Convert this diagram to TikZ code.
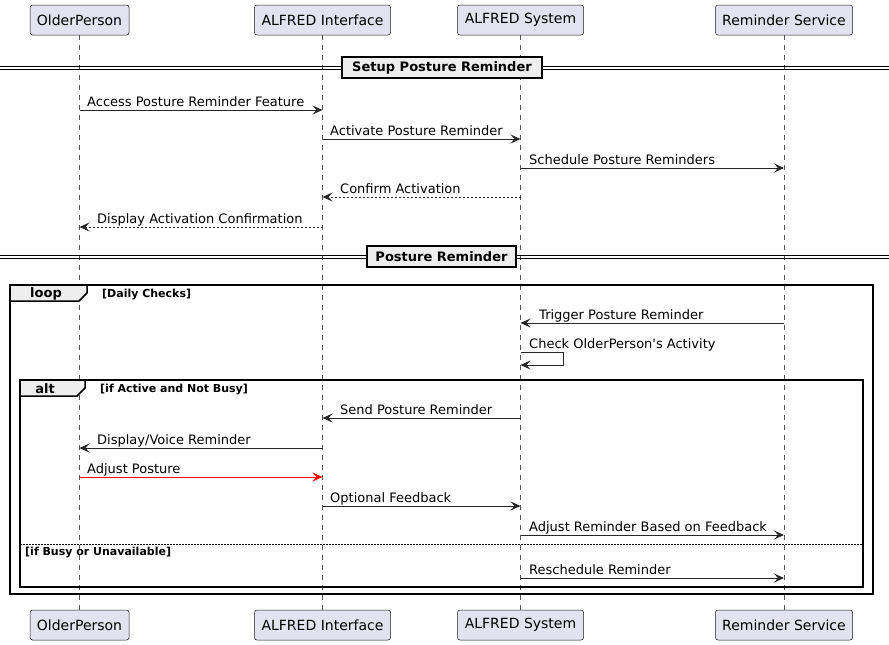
\documentclass[tikz,border=0pt]{standalone}
\usepackage{fontspec}
\setmainfont{DejaVu Sans}
\usetikzlibrary{arrows.meta}
\definecolor{partfill}{HTML}{E2E2F0}
\definecolor{partline}{HTML}{181818}
\definecolor{grpfill}{HTML}{EEEEEE}
\definecolor{lifegray}{HTML}{555555}
\newcommand{\straightquote}{\XeTeXglyph\XeTeXcharglyph"0027\relax}
\tikzset{
  part/.style={draw=partline, fill=partfill, rounded corners=2.5pt, line width=0.5pt,
    minimum height=30pt, inner sep=0pt, font=\fontsize{14}{16}\selectfont},
  life/.style={draw=lifegray, line width=0.5pt, dash pattern=on 5pt off 5pt},
  msg/.style={draw=black!85, line width=0.9pt, -{Stealth[length=10pt,width=9pt,inset=4pt]}},
  retmsg/.style={msg, dash pattern=on 2pt off 2pt},
  lbl/.style={anchor=base west, inner sep=0pt, font=\fontsize{13}{15}\selectfont},
  frame/.style={draw=black, line width=1.5pt},
  tab/.style={draw=black, line width=1.5pt, fill=grpfill},
  tabtxt/.style={inner sep=0pt, font=\bfseries\fontsize{13}{15}\selectfont},
  cond/.style={anchor=base west, inner sep=0pt, font=\bfseries\fontsize{11}{13}\selectfont},
  divbox/.style={draw=black, line width=1.5pt, fill=grpfill, minimum height=21pt,
    inner sep=0pt, font=\bfseries\fontsize{13}{15}\selectfont},
  divline/.style={draw=black, line width=1pt}
}
\begin{document}
\begin{tikzpicture}[x=1pt,y=-1pt]
\useasboundingbox (0,0) rectangle (889,645);

% participants top
\node[part, minimum width=99pt]  (op)  at (79.5,20) {OlderPerson};
\node[part, minimum width=136pt] (ai)  at (322.5,20) {ALFRED Interface};
\node[part, minimum width=126pt] (as)  at (520.5,20) {ALFRED System};
\node[part, minimum width=137pt] (rs)  at (784,20) {Reminder Service};
% participants bottom
\node[part, minimum width=99pt]  (opb) at (79.5,625) {OlderPerson};
\node[part, minimum width=136pt] (aib) at (322.5,625) {ALFRED Interface};
\node[part, minimum width=126pt] (asb) at (520.5,625) {ALFRED System};
\node[part, minimum width=137pt] (rsb) at (784,625) {Reminder Service};

% lifelines
\draw[life] (op.south) -- (opb.north);
\draw[life] (ai.south) -- (aib.north);
\draw[life] (as.south) -- (asb.north);
\draw[life] (rs.south) -- (rsb.north);

% divider 1
\draw[divline] (0,66) -- (889,66);
\draw[divline] (0,69) -- (889,69);
\node[divbox, minimum width=200pt] (d1) at (442,67.5) {Setup Posture Reminder};

% setup messages
\draw[msg] (op.south |- 0,110) -- (ai.south |- 0,110);
\node[lbl] (t1) at (87,106) {Access Posture Reminder Feature};
\draw[msg] (ai.south |- 0,139) -- (as.south |- 0,139);
\node[lbl] (t2) at (330,135) {Activate Posture Reminder};
\draw[msg] (as.south |- 0,168) -- (rs.south |- 0,168);
\node[lbl] (t3) at (529,164) {Schedule Posture Reminders};
\draw[retmsg] (as.south |- 0,197) -- (ai.south |- 0,197);
\node[lbl] (t4) at (340,193) {Confirm Activation};
\draw[retmsg] (ai.south |- 0,227) -- (op.south |- 0,227);
\node[lbl] (t5) at (97,223) {Display Activation Confirmation};

% divider 2
\draw[divline] (0,255) -- (889,255);
\draw[divline] (0,258) -- (889,258);
\node[divbox, minimum width=149pt] (d2) at (441.5,256.5) {Posture Reminder};

% loop frame
\draw[frame] (10,285) rectangle (873,594);
\draw[tab] (10,285) -- (87,285) -- (87,293) -- (79,301) -- (10,301) -- cycle;
\node[tabtxt] (looplbl) at (46,294) {loop};
\node[cond] (loopc) at (102,297) {[Daily Checks]};

\draw[msg] (rs.south |- 0,323) -- (as.south |- 0,323);
\node[lbl] (t6) at (539,319) {Trigger Posture Reminder};
\draw[msg] (as.south |- 0,352) -- (563,352) -- (563,365) -- (as.south |- 0,365);
\node[lbl] (t7) at (529,348) {Check OlderPerson\straightquote s Activity};

% alt frame
\draw[frame] (20,380) rectangle (863,587);
\draw[tab] (20,380) -- (85,380) -- (85,388) -- (77,396) -- (20,396) -- cycle;
\node[tabtxt] (altlbl) at (45,389) {alt};
\node[cond] (altc) at (100,392) {[if Active and Not Busy]};

\draw[msg] (as.south |- 0,418) -- (ai.south |- 0,418);
\node[lbl] (t8) at (340,414) {Send Posture Reminder};
\draw[msg] (ai.south |- 0,448) -- (op.south |- 0,448);
\node[lbl] (t9) at (97,444) {Display/Voice Reminder};
\draw[msg, draw=red] (op.south |- 0,477) -- (ai.south |- 0,477);
\node[lbl] (t10) at (87,473) {Adjust Posture};
\draw[msg] (ai.south |- 0,506) -- (as.south |- 0,506);
\node[lbl] (t11) at (330,502) {Optional Feedback};
\draw[msg] (as.south |- 0,535) -- (rs.south |- 0,535);
\node[lbl] (t12) at (529,531) {Adjust Reminder Based on Feedback};

\draw[draw=black, line width=0.8pt, dash pattern=on 1.5pt off 1.5pt] (20,544) -- (863,544);
\node[cond] (elsec) at (25,555) {[if Busy or Unavailable]};

\draw[msg] (as.south |- 0,578) -- (rs.south |- 0,578);
\node[lbl] (t13) at (529,574) {Reschedule Reminder};
\end{tikzpicture}
\end{document}
